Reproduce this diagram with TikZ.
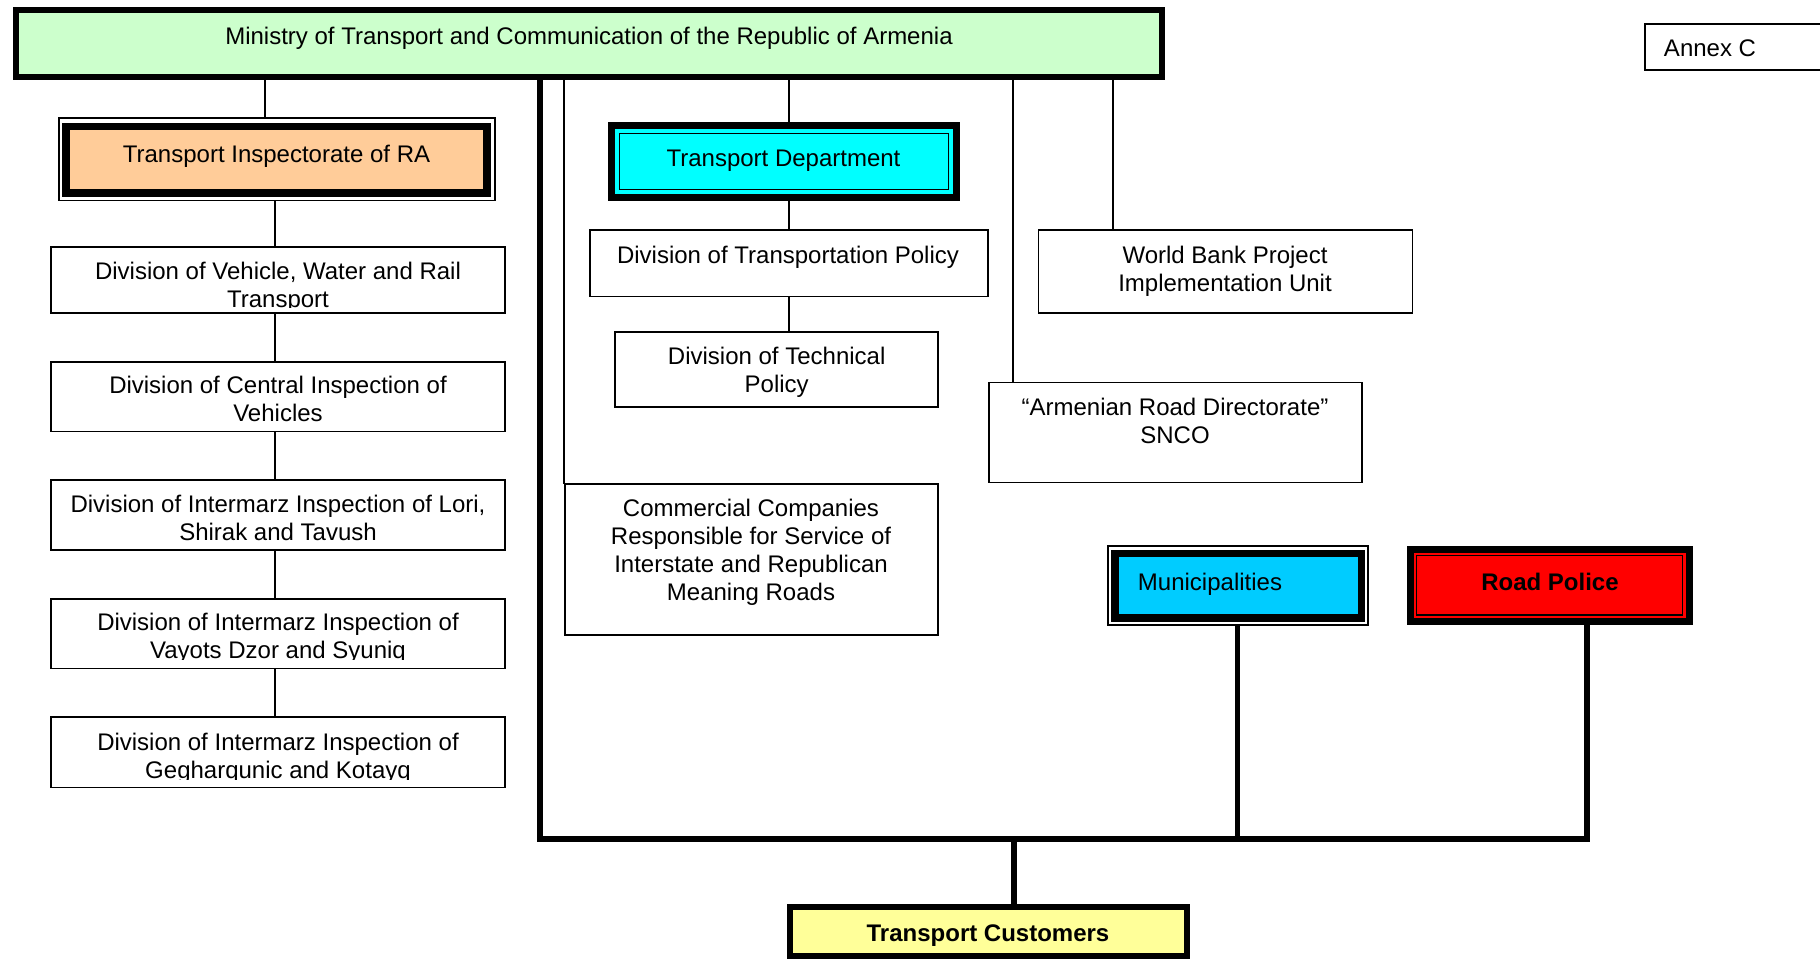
\documentclass[tikz,border=0pt]{standalone}
\usepackage{fontspec}
\setmainfont{Liberation Sans}
\newcommand\lnstrut{\rule[-5.4pt]{0pt}{28pt}}
\definecolor{mingreen}{RGB}{204,255,204}
\definecolor{peach}{RGB}{255,204,153}
\definecolor{tdcyan}{RGB}{0,255,255}
\definecolor{muncyan}{RGB}{0,204,255}
\definecolor{rpred}{RGB}{255,0,0}
\definecolor{custyellow}{RGB}{255,255,153}
\begin{document}
\begin{tikzpicture}[x=1pt,y=-1pt,
  every node/.style={inner sep=0pt, outer sep=0pt},
  frame/.style={draw, line width=1.8pt, rectangle},
  heavy/.style={draw, line width=#1, rectangle},
  txt/.style={align=center, font=\fontsize{24}{28}\selectfont},
  btxt/.style={align=center, font=\fontsize{24}{28}\selectfont\bfseries},
  conn/.style={line width=1.8pt},
  bigconn/.style={line width=5.5pt}]
\useasboundingbox (0,0) rectangle (1820,960);

% Ministry
\node[heavy=6pt, fill=mingreen, minimum width=1146pt, minimum height=67pt] (min) at (589,43.5) {};
\node[txt] (mint) at (589,35.5) {\lnstrut Ministry of Transport and Communication of the Republic of Armenia};

% Annex
\node[frame, minimum width=185pt, minimum height=46pt] (annex) at (1737.5,47) {};
\node[txt] (annext) at (1710,48) {\lnstrut Annex C};

% Transport Inspectorate
\node[frame, minimum width=436pt, minimum height=82.5pt] (ti) at (277,159.25) {};
\node[heavy=7.5pt, fill=peach, minimum width=421pt, minimum height=66.5pt] (tiin) at (276.7,159.7) {};
\node[txt] (tit) at (276.5,154) {\lnstrut Transport Inspectorate of RA};

% Division boxes (left column)
\node[frame, minimum width=454pt, minimum height=66.5pt] (d1) at (278,279.85) {};
\node[frame, minimum width=454pt, minimum height=69.5pt] (d2) at (278,396.65) {};
\node[frame, minimum width=454pt, minimum height=70pt] (d3) at (278,515.15) {};
\node[frame, minimum width=454pt, minimum height=69.2pt] (d4) at (278,633.8) {};
\node[frame, minimum width=454pt, minimum height=70.5pt] (d5) at (278,752.15) {};
\begin{scope}
\clip (51,247) rectangle (505,307);
\node[txt] (t1) at (278,285) {\lnstrut Division of Vehicle, Water and Rail\\\lnstrut Transport};
\end{scope}
\node[txt] (t2) at (278,399) {\lnstrut Division of Central Inspection of\\\lnstrut Vehicles};
\node[txt] (t3) at (278,518) {\lnstrut Division of Intermarz Inspection of Lori,\\\lnstrut Shirak and Tavush};
\begin{scope}
\clip (51,599) rectangle (505,659.5);
\node[txt] (t4) at (278,636) {\lnstrut Division of Intermarz Inspection of\\\lnstrut Vayots Dzor and Syuniq};
\end{scope}
\begin{scope}
\clip (51,717) rectangle (505,779);
\node[txt] (t5) at (278,755.5) {\lnstrut Division of Intermarz Inspection of\\\lnstrut Gegharqunic and Kotayq};
\end{scope}

% Transport Department
\node[heavy=7pt, fill=tdcyan, minimum width=345pt, minimum height=72pt] (td) at (784,161.5) {};
\node[heavy=1.3pt, minimum width=329pt, minimum height=56pt] (tdin) at (784,161.5) {};
\node[txt] (tdt) at (783.5,157.5) {\lnstrut Transport Department};

% Division of Transportation Policy
\node[frame, minimum width=398.5pt, minimum height=66.5pt] (tp) at (789,263.2) {};
\node[txt] (tpt) at (788,254.5) {\lnstrut Division of Transportation Policy};

% Division of Technical Policy
\node[frame, minimum width=323pt, minimum height=75pt] (tech) at (776.7,369.4) {};
\node[txt] (techt) at (776.7,370) {\lnstrut Division of Technical\\\lnstrut Policy};

% World Bank
\node[frame, minimum width=374pt, minimum height=83pt] (wb) at (1225.5,271.7) {};
\node[txt] (wbt) at (1225,268.5) {\lnstrut World Bank Project\\\lnstrut Implementation Unit};

% Armenian Road Directorate
\node[frame, minimum width=372.6pt, minimum height=100pt] (ard) at (1175.5,432.5) {};
\node[txt] (ardt) at (1175,421) {\lnstrut “Armenian Road Directorate”\\\lnstrut SNCO};

% Commercial companies
\node[frame, minimum width=373pt, minimum height=150.6pt] (comm) at (751.7,559.5) {};
\node[txt] (commt) at (751,550) {\lnstrut Commercial Companies\\\lnstrut Responsible for Service of\\\lnstrut Interstate and Republican\\\lnstrut Meaning Roads};

% Municipalities
\node[frame, minimum width=260pt, minimum height=79pt] (mun) at (1238,585.5) {};
\node[heavy=7.5pt, fill=muncyan, minimum width=246.5pt, minimum height=64.5pt] (munin) at (1238,585.5) {};
\node[txt] (munt) at (1210,582) {\lnstrut Municipalities};

% Road Police
\node[heavy=7pt, fill=rpred, minimum width=279pt, minimum height=72.3pt] (rp) at (1549.5,585.35) {};
\node[heavy=1.3pt, minimum width=266pt, minimum height=59.3pt] (rpin) at (1549.5,585.35) {};
\node[btxt] (rpt) at (1550,582) {\lnstrut Road Police};

% Transport Customers
\node[heavy=6pt, fill=custyellow, minimum width=397pt, minimum height=49pt] (cust) at (988.5,931.5) {};
\node[btxt] (custt) at (988,933) {\lnstrut Transport Customers};

% connector x positions
\coordinate (xa) at (265.2,0);
\coordinate (xb) at (274.7,0);
\coordinate (xd) at (564,0);
\coordinate (xe) at (789,0);
\coordinate (xf) at (1013.3,0);
\coordinate (xg) at (1113.3,0);
\coordinate (xm) at (1237.5,0);
\coordinate (xc) at (1014,0);
\coordinate (busL) at (540.2,839);
\coordinate (busR) at (1587,839);

% thin connectors
\draw[conn] (min.south -| xa) -- (ti.north -| xa);
\draw[conn] (ti.south -| xb) -- (d1.north -| xb);
\draw[conn] (d1.south -| xb) -- (d2.north -| xb);
\draw[conn] (d2.south -| xb) -- (d3.north -| xb);
\draw[conn] (d3.south -| xb) -- (d4.north -| xb);
\draw[conn] (d4.south -| xb) -- (d5.north -| xb);
\draw[conn] (min.south -| xd) -- (comm.north -| xd);
\draw[conn] (min.south -| xe) -- (td.north -| xe);
\draw[conn] (td.south -| xe) -- (tp.north -| xe);
\draw[conn] (tp.south -| xe) -- (tech.north -| xe);
\draw[conn] (min.south -| xf) -- (ard.north -| xf);
\draw[conn] (min.south -| xg) -- (wb.north -| xg);

% thick connectors
\draw[bigconn] (min.south -| busL) -- (busL) -- (busR) -- (rp.south -| busR);
\draw[bigconn] (mun.south -| xm) -- (busL -| xm);
\draw[bigconn] (busL -| xc) -- (cust.north -| xc);
\end{tikzpicture}
\end{document}
